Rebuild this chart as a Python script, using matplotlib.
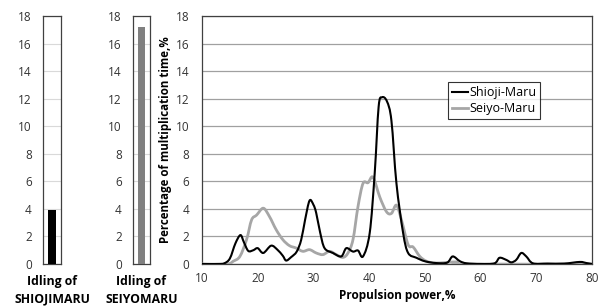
import matplotlib
matplotlib.use("Agg")
import matplotlib.pyplot as plt
from matplotlib.path import Path
from matplotlib.patches import PathPatch
from matplotlib.lines import Line2D
import numpy as np

plt.rcParams['font.family'] = ['Open Sans', 'DejaVu Sans']

# idling bars
idle_labels = ["Idling of\nSHIOJIMARU", "Idling of\nSEIYOMARU"]
idle_values = [3.9, 17.2]
idle_colors = ["#000000", "#808080"]

# propulsion power distribution
shioji_x = [10, 13, 14, 15, 16, 16.9, 17.5, 18.3, 19.2, 20, 21, 22.4, 23.5, 24.5, 25.1, 26, 27, 27.8,
            28.5, 29.3, 30, 30.5, 31.2, 32, 33.5, 35, 35.9, 37.1, 38, 38.9, 40.1, 41, 41.7, 42.3, 43.2,
            44, 44.9, 46.1, 47, 48.5, 50, 52, 54, 55, 56.3, 57.5, 60, 62.5, 63.4, 64.6, 65.5, 66.4,
            67.3, 68.2, 69.4, 72, 75, 77.8, 79, 80]
shioji_y = [0, 0, 0.05, 0.4, 1.5, 2.1, 1.6, 0.95, 1.0, 1.15, 0.8, 1.33, 1.05, 0.6, 0.25, 0.5, 0.9, 1.75,
            3.2, 4.6, 4.3, 3.7, 2.3, 1.15, 0.8, 0.55, 1.15, 0.9, 0.98, 0.55, 2.25, 6.6, 11.4, 12.1, 11.8,
            10.4, 5.85, 2.25, 0.8, 0.45, 0.2, 0.07, 0.1, 0.55, 0.2, 0.05, 0, 0.05, 0.45, 0.3, 0.12, 0.3,
            0.8, 0.55, 0.05, 0.03, 0.03, 0.15, 0.07, 0]

seiyo_x = [10, 14.5, 15.6, 16.8, 18, 18.9, 19.8, 21, 22.1, 23.3, 24.5, 25.7, 26.9, 28.1, 29.3, 30.5,
           31.7, 32.9, 34.1, 35.3, 36.2, 37.1, 38, 38.9, 39.8, 40.7, 41.9, 43.1, 44, 44.9, 45.8, 47,
           47.9, 49.1, 50.3, 52, 55.7, 57, 80]
seiyo_y = [0, 0, 0.2, 0.55, 1.77, 3.2, 3.55, 4.05, 3.45, 2.5, 1.77, 1.33, 1.16, 0.92, 1.04, 0.8,
           0.68, 0.92, 0.68, 0.48, 0.8, 1.77, 4.17, 5.85, 5.9, 6.3, 4.87, 3.8, 3.67, 4.27, 3.2, 1.4,
           1.23, 0.55, 0.2, 0.07, 0.15, 0, 0]

W, H = 598, 307
fig = plt.figure(figsize=(W / 100, H / 100), dpi=100)


def ax_rect(x0, x1, ytop, ybot):
    return [x0 / W, (H - ybot) / H, (x1 - x0) / W, (ybot - ytop) / H]


def smooth_path(xs, ys, tension=0.5):
    # Catmull-Rom through the data points, rendered as cubic Bezier curves
    p = np.column_stack([xs, ys]).astype(float)
    verts = [p[0]]
    codes = [Path.MOVETO]
    n = len(p)
    for i in range(n - 1):
        p0 = p[i - 1] if i > 0 else p[i]
        p1 = p[i]
        p2 = p[i + 1]
        p3 = p[i + 2] if i + 2 < n else p[i + 1]
        c1 = p1 + (p2 - p0) * tension / 3
        c2 = p2 - (p3 - p1) * tension / 3
        verts += [c1, c2, p2]
        codes += [Path.CURVE4] * 3
    return Path(verts, codes)


yticks = list(range(0, 19, 2))
tick_fs = 8.5
for i, (x0, x1) in enumerate([(43, 61), (133, 150)]):
    ax = fig.add_axes(ax_rect(x0, x1, 16, 264))
    ax.bar([0], [idle_values[i]], width=0.4, color=idle_colors[i], zorder=3)
    ax.set_xlim(-0.5, 0.5)
    ax.set_ylim(0, 18)
    ax.set_yticks(yticks)
    ax.set_xticks([])
    ax.tick_params(axis='y', length=0, pad=8, labelsize=tick_fs, colors="#333333")
    ax.grid(axis='y', color="#d9d9d9", linewidth=0.8, zorder=0)
    for s in ax.spines.values():
        s.set_color("#404040")
        s.set_linewidth(0.9)
    ax.set_xlabel(idle_labels[i], fontsize=8.8, fontweight='bold', labelpad=8, linespacing=1.45)

ax = fig.add_axes(ax_rect(202, 592, 16, 264))
ax.add_patch(PathPatch(smooth_path(seiyo_x, seiyo_y), facecolor='none', edgecolor="#a6a6a6",
                       linewidth=2.0, zorder=3, capstyle='round', joinstyle='round'))
ax.add_patch(PathPatch(smooth_path(shioji_x, shioji_y), facecolor='none', edgecolor="#000000",
                       linewidth=1.5, zorder=4, capstyle='round', joinstyle='round'))
ax.set_xlim(10, 80)
ax.set_ylim(0, 18)
ax.set_xticks(range(10, 81, 10))
ax.set_yticks(yticks)
ax.tick_params(axis='both', length=0, labelsize=tick_fs, colors="#333333")
ax.tick_params(axis='y', pad=9)
ax.tick_params(axis='x', pad=6)
ax.grid(axis='y', color="#a0a0a0", linewidth=0.9, zorder=0)
for s in ax.spines.values():
    s.set_color("#404040")
    s.set_linewidth(0.9)
ax.set_xlabel("Propulsion power,%", fontsize=8.5, fontweight='bold', labelpad=3)
ax.set_ylabel("Percentage of multiplication time,%", fontsize=8.3, fontweight='bold', labelpad=3)
handles = [Line2D([], [], color="#000000", linewidth=1.5), Line2D([], [], color="#a6a6a6", linewidth=2.0)]
labels = ["Shioji-Maru", "Seiyo-Maru"]
leg = ax.legend(handles, labels, loc='upper left',
                bbox_to_anchor=((448 - 202) / 390, 1 - (82 - 16) / 248),
                fontsize=9, frameon=True, fancybox=False, edgecolor="#000000", handlelength=1.3,
                handletextpad=0.1, borderpad=0.3, labelspacing=0.25, borderaxespad=0,
                handleheight=0.6)
leg.get_frame().set_linewidth(0.8)

fig.savefig("out.png", dpi=100)
